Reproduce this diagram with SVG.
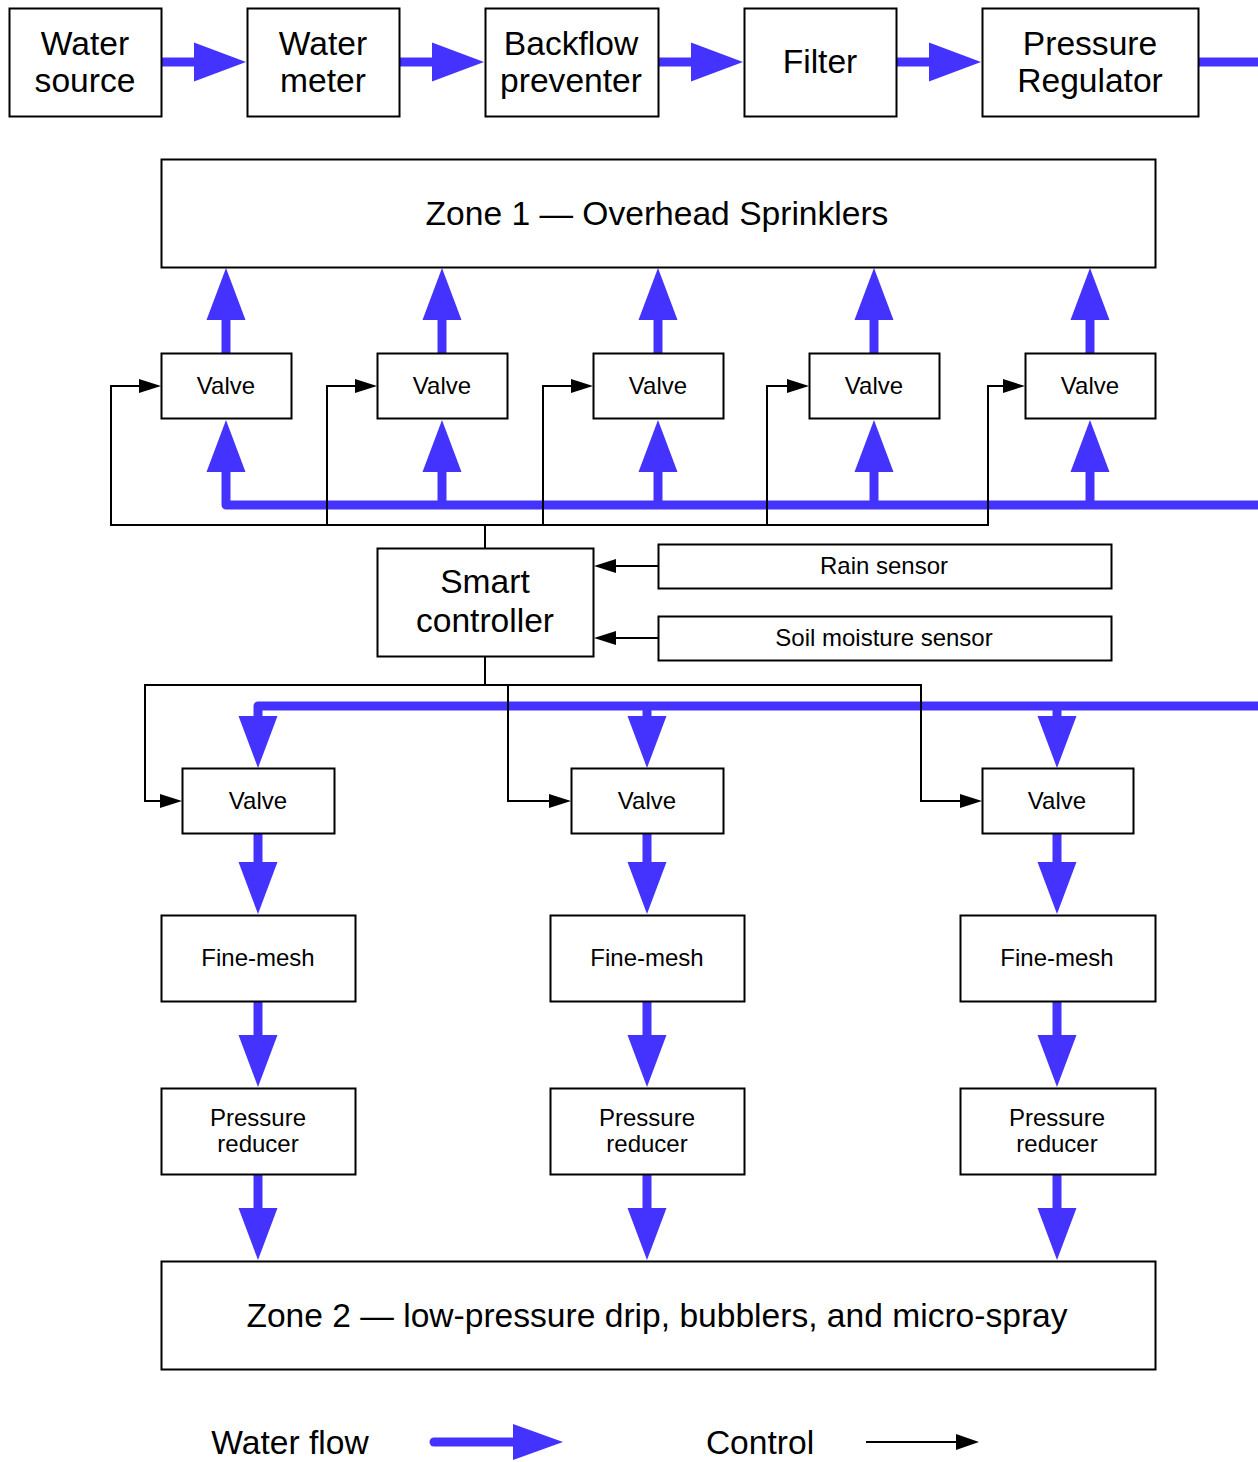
<svg xmlns="http://www.w3.org/2000/svg" width="1258" height="1462" viewBox="0 0 1258 1462">
<style>
.box{fill:#fff;stroke:#000;stroke-width:2}
.t{font-family:"Liberation Sans",Arial,sans-serif;fill:#000;text-anchor:middle}
.big{font-size:33.6px}
.sm{font-size:24px}
.flow{fill:none;stroke:#4433ff;stroke-width:9;stroke-linejoin:round;marker-end:url(#bh)}
.ctl{fill:none;stroke:#000;stroke-width:2;marker-end:url(#kh)}
.bus{fill:none;stroke:#4433ff;stroke-width:9;stroke-linejoin:round}
</style>
<defs>
<marker id="bh" markerUnits="userSpaceOnUse" markerWidth="53" markerHeight="40" refX="0" refY="19.5" orient="auto" overflow="visible">
<path d="M0,0 L52,19.5 L0,39 z" fill="#4433ff"/>
</marker>
<marker id="kh" markerUnits="userSpaceOnUse" markerWidth="23" markerHeight="15" refX="0" refY="7" orient="auto" overflow="visible">
<path d="M0,0 L22,7 L0,14 z" fill="#000"/>
</marker>
</defs>
<rect width="1258" height="1462" fill="#fff"/>

<g id="connectors">
<path class="flow" d="M161,62 H194"/>
<path class="flow" d="M399,62 H432"/>
<path class="flow" d="M658,62 H691"/>
<path class="flow" d="M896,62 H929"/>
<path class="bus" d="M1198,62 H1262"/>
<path class="flow" d="M1262,505 H226 V472"/>
<path class="flow" d="M442,505 V472"/>
<path class="flow" d="M658,505 V472"/>
<path class="flow" d="M874,505 V472"/>
<path class="flow" d="M1090,505 V472"/>
<path class="flow" d="M226,353 V320"/>
<path class="flow" d="M442,353 V320"/>
<path class="flow" d="M658,353 V320"/>
<path class="flow" d="M874,353 V320"/>
<path class="flow" d="M1090,353 V320"/>
<path class="flow" d="M1262,706 H258 V716"/>
<path class="flow" d="M647,706 V716"/>
<path class="flow" d="M1057,706 V716"/>
<path class="flow" d="M258,833 V862"/>
<path class="flow" d="M647,833 V862"/>
<path class="flow" d="M1057,833 V862"/>
<path class="flow" d="M258,1001 V1035"/>
<path class="flow" d="M647,1001 V1035"/>
<path class="flow" d="M1057,1001 V1035"/>
<path class="flow" d="M258,1174 V1208"/>
<path class="flow" d="M647,1174 V1208"/>
<path class="flow" d="M1057,1174 V1208"/>
<path class="ctl" d="M485,548 V525 H111 V386 H139"/>
<path class="ctl" d="M327,525 V386 H355"/>
<path class="ctl" d="M485,525 H543 V386 H571"/>
<path class="ctl" d="M543,525 H767 V386 H787"/>
<path class="ctl" d="M767,525 H988 V386 H1003"/>
<path class="ctl" d="M658,566 H616"/>
<path class="ctl" d="M658,638 H616"/>
<path class="ctl" d="M485,656 V685 H145 V801 H160"/>
<path class="ctl" d="M485,685 H508 V801 H549"/>
<path class="ctl" d="M508,685 H921 V801 H960"/>
</g>

<g id="water-source"><rect class="box" x="9.5" y="8.5" width="152" height="108"/><text class="t big" x="85" y="55">Water</text><text class="t big" x="85" y="92">source</text></g>
<g id="water-meter"><rect class="box" x="247.5" y="8.5" width="152" height="108"/><text class="t big" x="323" y="55">Water</text><text class="t big" x="323" y="92">meter</text></g>
<g id="backflow-preventer"><rect class="box" x="485.5" y="8.5" width="173" height="108"/><text class="t big" x="571" y="55">Backflow</text><text class="t big" x="571" y="92">preventer</text></g>
<g id="filter"><rect class="box" x="744.5" y="8.5" width="152" height="108"/><text class="t big" x="820" y="73">Filter</text></g>
<g id="pressure-regulator"><rect class="box" x="982.5" y="8.5" width="216" height="108"/><text class="t big" x="1090" y="55">Pressure</text><text class="t big" x="1090" y="92">Regulator</text></g>

<g id="zone1"><rect class="box" x="161.5" y="159.5" width="994" height="108"/><text class="t big" x="657" y="225">Zone 1 — Overhead Sprinklers</text></g>

<g id="valve-z1-1"><rect class="box" x="161.5" y="353.5" width="130" height="65"/><text class="t sm" x="226" y="394">Valve</text></g>
<g id="valve-z1-2"><rect class="box" x="377.5" y="353.5" width="130" height="65"/><text class="t sm" x="442" y="394">Valve</text></g>
<g id="valve-z1-3"><rect class="box" x="593.5" y="353.5" width="130" height="65"/><text class="t sm" x="658" y="394">Valve</text></g>
<g id="valve-z1-4"><rect class="box" x="809.5" y="353.5" width="130" height="65"/><text class="t sm" x="874" y="394">Valve</text></g>
<g id="valve-z1-5"><rect class="box" x="1025.5" y="353.5" width="130" height="65"/><text class="t sm" x="1090" y="394">Valve</text></g>

<g id="smart-controller"><rect class="box" x="377.5" y="548.5" width="216" height="108"/><text class="t big" x="485" y="593">Smart</text><text class="t big" x="485" y="632">controller</text></g>
<g id="rain-sensor"><rect class="box" x="658.5" y="544.5" width="453" height="44"/><text class="t sm" x="884" y="574">Rain sensor</text></g>
<g id="soil-sensor"><rect class="box" x="658.5" y="616.5" width="453" height="44"/><text class="t sm" x="884" y="646">Soil moisture sensor</text></g>

<g id="valve-z2-1"><rect class="box" x="182.5" y="768.5" width="152" height="65"/><text class="t sm" x="258" y="809">Valve</text></g>
<g id="valve-z2-2"><rect class="box" x="571.5" y="768.5" width="152" height="65"/><text class="t sm" x="647" y="809">Valve</text></g>
<g id="valve-z2-3"><rect class="box" x="982.5" y="768.5" width="151" height="65"/><text class="t sm" x="1057" y="809">Valve</text></g>

<g id="fine-mesh-1"><rect class="box" x="161.5" y="915.5" width="194" height="86"/><text class="t sm" x="258" y="966">Fine-mesh</text></g>
<g id="fine-mesh-2"><rect class="box" x="550.5" y="915.5" width="194" height="86"/><text class="t sm" x="647" y="966">Fine-mesh</text></g>
<g id="fine-mesh-3"><rect class="box" x="960.5" y="915.5" width="195" height="86"/><text class="t sm" x="1057" y="966">Fine-mesh</text></g>

<g id="pressure-reducer-1"><rect class="box" x="161.5" y="1088.5" width="194" height="86"/><text class="t sm" x="258" y="1126">Pressure</text><text class="t sm" x="258" y="1152">reducer</text></g>
<g id="pressure-reducer-2"><rect class="box" x="550.5" y="1088.5" width="194" height="86"/><text class="t sm" x="647" y="1126">Pressure</text><text class="t sm" x="647" y="1152">reducer</text></g>
<g id="pressure-reducer-3"><rect class="box" x="960.5" y="1088.5" width="195" height="86"/><text class="t sm" x="1057" y="1126">Pressure</text><text class="t sm" x="1057" y="1152">reducer</text></g>

<g id="zone2"><rect class="box" x="161.5" y="1261.5" width="994" height="108"/><text class="t big" x="657" y="1327">Zone 2 — low-pressure drip, bubblers, and micro-spray</text></g>

<g id="legend">
<text class="t big" x="290" y="1454">Water flow</text>
<path d="M434,1442 H513" fill="none" stroke="#4433ff" stroke-width="9" stroke-linecap="round"/>
<path d="M513,1424 L563,1442 L513,1460 z" fill="#4433ff"/>
<text class="t big" x="760" y="1454">Control</text>
<path d="M866,1442 H957" fill="none" stroke="#000" stroke-width="2"/>
<path d="M956,1434 L979,1442 L956,1450 z" fill="#000"/>
</g>
</svg>
